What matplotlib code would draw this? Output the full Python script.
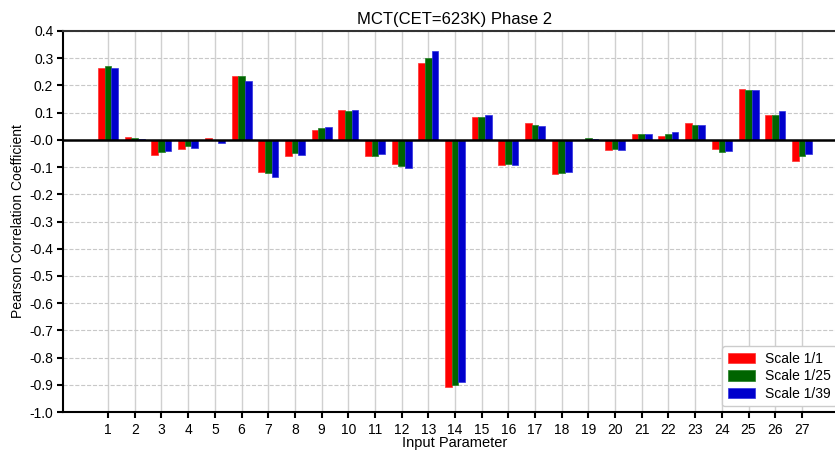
import numpy as np
import matplotlib
matplotlib.use('Agg')
import matplotlib.pyplot as plt

plt.rcParams['font.family'] = ['Liberation Sans', 'DejaVu Sans']

# data
params = list(range(1, 28))
scale_1_1 = [0.264, 0.009, -0.057, -0.032, 0.007, 0.233, -0.118, -0.058, 0.037, 0.108,
             -0.061, -0.090, 0.282, -0.907, 0.083, -0.093, 0.061, -0.127, 0.001, -0.039,
             0.020, 0.013, 0.063, -0.034, 0.187, 0.090, -0.079]
scale_1_25 = [0.270, 0.007, -0.045, -0.024, 0.001, 0.236, -0.123, -0.050, 0.045, 0.107,
              -0.061, -0.096, 0.300, -0.899, 0.083, -0.088, 0.056, -0.123, 0.005, -0.035,
              0.020, 0.023, 0.056, -0.043, 0.183, 0.093, -0.060]
scale_1_39 = [0.264, 0.003, -0.041, -0.029, -0.010, 0.215, -0.138, -0.056, 0.048, 0.109,
              -0.053, -0.102, 0.325, -0.890, 0.090, -0.094, 0.051, -0.119, 0.004, -0.037,
              0.020, 0.028, 0.053, -0.041, 0.184, 0.105, -0.053]

x = np.array(params)
w = 0.25

fig = plt.figure(figsize=(8.35, 4.51), dpi=100)
# axes runs past the right edge, as in the cropped reference
ax = fig.add_axes([63/835, 1 - 412/451, 784/835, 381/451])

ax.bar(x - w, scale_1_1, w, color='#ff0000', edgecolor='#ff3030', lw=0.5, label='Scale 1/1', zorder=3)
ax.bar(x, scale_1_25, w, color='#006400', edgecolor='#208020', lw=0.5, label='Scale 1/25', zorder=3)
ax.bar(x + w, scale_1_39, w, color='#0000cc', edgecolor='#3030e0', lw=0.5, label='Scale 1/39', zorder=3)

ax.axhline(0, color='black', lw=1.8, zorder=4)

ax.set_xlim(1 - 1.69, 27 + 1.69)
ax.set_ylim(-1.0, 0.4)
ax.set_xticks(x)
ax.set_xticklabels([str(p) for p in params])
ax.set_yticks(np.round(np.arange(-1.0, 0.41, 0.1), 1))
ax.yaxis.set_major_formatter(matplotlib.ticker.FormatStrFormatter('%.1f'))

ax.grid(axis='x', color='#d0d0d0', lw=1, ls='-', zorder=0)
ax.grid(axis='y', color='#c8c8c8', lw=0.8, ls='--', zorder=0)

for s in ['left', 'bottom']:
    ax.spines[s].set_linewidth(1.5)
ax.spines['top'].set_linewidth(1.5)
ax.spines['top'].set_color('#333333')
ax.tick_params(axis='both', direction='out', length=4, width=1.5, labelsize=10)
ax.tick_params(axis='x', pad=4)
ax.tick_params(axis='y', pad=3)

ax.set_title('MCT(CET=623K) Phase 2', fontsize=12, pad=5)
ax.set_xlabel('Input Parameter', fontsize=10.5, labelpad=-1)
ax.set_ylabel('Pearson Correlation Coefficient', fontsize=10, labelpad=3)

ax.legend(loc='lower right', bbox_to_anchor=(1 - 5/784, 0), fontsize=10,
          handlelength=2.0, handleheight=0.8, labelspacing=0.25, handletextpad=0.7,
          borderaxespad=0.4, framealpha=1, edgecolor='#cccccc')

fig.savefig('out.png', dpi=100)
